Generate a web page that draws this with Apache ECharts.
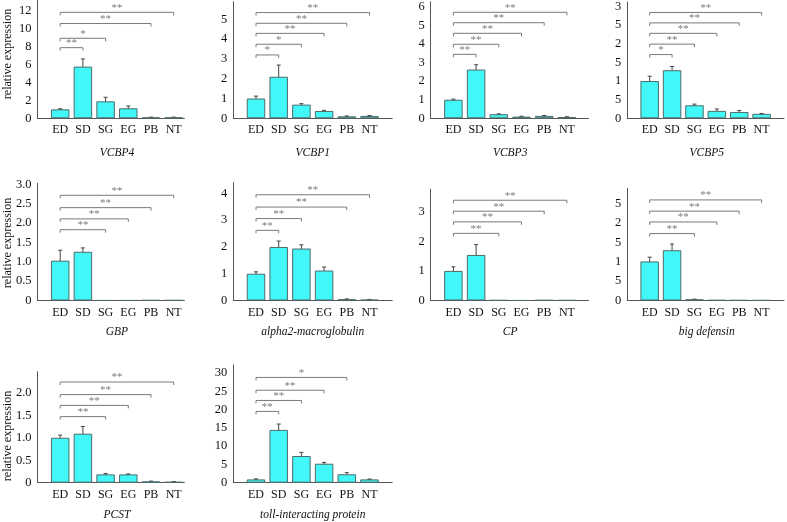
<!DOCTYPE html>
<html>
<head>
<meta charset="utf-8">
<script src="https://cdn.jsdelivr.net/npm/echarts@6/dist/echarts.min.js"></script>
<style>html,body{margin:0;padding:0;background:#fff}#c{width:787px;height:522px}</style>
</head>
<body>
<div id="c"></div>
<script>
// ---------- data ----------
const categories = ['ED', 'SD', 'SG', 'EG', 'PB', 'NT'];
const genes = ['VCBP4', 'VCBP1', 'VCBP3', 'VCBP5', 'GBP', 'alpha2-macroglobulin', 'CP', 'big defensin', 'PCST', 'toll-interacting protein'];

const vcbp4Mean = [1.0, 5.78, 1.9, 1.12, 0.1, 0.1];
const vcbp4Err  = [0.07, 0.86, 0.45, 0.26, 0.03, 0.03];
const vcbp1Mean = [1.0, 2.1, 0.69, 0.37, 0.1, 0.12];
const vcbp1Err  = [0.12, 0.59, 0.05, 0.03, 0.02, 0.02];
const vcbp3Mean = [1.0, 2.62, 0.22, 0.09, 0.13, 0.07];
const vcbp3Err  = [0.03, 0.26, 0.02, 0.02, 0.02, 0.01];
const vcbp5Mean = [1.0, 1.29, 0.35, 0.2, 0.17, 0.12];
const vcbp5Err  = [0.13, 0.1, 0.03, 0.05, 0.04, 0.01];
const gbpMean   = [1.03, 1.26, 0.003, 0.003, 0.008, 0.008];
const gbpErr    = [0.27, 0.1, 0, 0, 0, 0];
const a2mMean   = [1.0, 2.0, 1.94, 1.12, 0.05, 0.03];
const a2mErr    = [0.07, 0.22, 0.14, 0.13, 0.01, 0.01];
const cpMean    = [1.0, 1.54, 0.01, 0.003, 0.012, 0.008];
const cpErr     = [0.14, 0.35, 0, 0, 0, 0];
const bdMean    = [1.01, 1.3, 0.03, 0.01, 0.008, 0.005];
const bdErr     = [0.11, 0.16, 0.005, 0, 0, 0];
const pcstMean  = [1.0, 1.09, 0.185, 0.185, 0.03, 0.02];
const pcstErr   = [0.06, 0.16, 0.02, 0.01, 0.005, 0.003];
const tollMean  = [0.9, 14.45, 7.3, 5.2, 2.3, 0.9];
const tollErr   = [0.15, 1.6, 1.0, 0.35, 0.45, 0.1];

// significance brackets: [target category index, level, stars] (all from ED)
const vcbp4Sig = [[1, 7.9, '**'], [2, 8.95, '*'], [4, 10.6, '**'], [5, 11.85, '**']];
const vcbp1Sig = [[1, 3.2, '*'], [2, 3.74, '*'], [3, 4.29, '**'], [4, 4.8, '**'], [5, 5.34, '**']];
const vcbp3Sig = [[1, 3.44, '**'], [2, 3.98, '**'], [3, 4.57, '**'], [4, 5.14, '**'], [5, 5.7, '**']];
const vcbp5Sig = [[1, 1.71, '*'], [2, 1.99, '**'], [3, 2.28, '**'], [4, 2.56, '**'], [5, 2.84, '**']];
const gbpSig   = [[2, 1.83, '**'], [3, 2.11, '**'], [4, 2.4, '**'], [5, 2.72, '**']];
const a2mSig   = [[1, 2.62, '**'], [2, 3.06, '**'], [4, 3.49, '**'], [5, 3.95, '**']];
const cpSig    = [[2, 2.27, '**'], [3, 2.66, '**'], [4, 3.02, '**'], [5, 3.39, '**']];
const bdSig    = [[2, 1.73, '**'], [3, 2.03, '**'], [4, 2.31, '**'], [5, 2.6, '**']];
const pcstSig  = [[2, 1.47, '**'], [3, 1.72, '**'], [4, 1.96, '**'], [5, 2.24, '**']];
const tollSig  = [[1, 19.5, '**'], [2, 22.5, '**'], [3, 25.3, '**'], [4, 28.8, '*']];

// y tick labels (as printed in the figure)
const vcbp4Ticks = ['0', '2', '4', '6', '8', '10', '12'];
const vcbp1Ticks = ['0', '1', '2', '3', '4', '5'];
const vcbp3Ticks = ['0', '1', '2', '3', '4', '5', '6'];
const vcbp5Ticks = ['0', '5', '1', '5', '2', '5', '3'];
const gbpTicks   = ['0', '0.5', '1.0', '1.5', '2.0', '2.5', '3.0'];
const a2mTicks   = ['0', '1', '2', '3', '4'];
const cpTicks    = ['0', '1', '2', '3'];
const bdTicks    = ['0', '5', '1', '5', '2', '5'];
const pcstTicks  = ['0', '0.5', '1.0', '1.5', '2.0'];
const tollTicks  = ['0', '5', '10', '15', '20', '25', '30'];

const tickStep = [2, 1, 1, 0.5, 0.5, 1, 1, 0.5, 0.5, 5];
const yMax     = [13.23, 5.89, 6.27, 3.12, 3.03, 4.4, 3.76, 2.9, 2.47, 32.2];

// ---------- layout ----------
const FONT = 'Liberation Serif';
const STEP = 22.7;                       // px per category
const colLeft = [37.5, 233.3, 430.7, 627.3];
const colXMax = [5.47, 6, 5.95, 6];
const rowBase = [118.3, 300.5, 482.7];
const rowTitleY = [152.7, 332, 515];
const panelTop = [0, 1.7, 1.7, 1.7, 183.3, 182.7, 189.3, 188.3, 371.7, 365];

const means = [vcbp4Mean, vcbp1Mean, vcbp3Mean, vcbp5Mean, gbpMean, a2mMean, cpMean, bdMean, pcstMean, tollMean];
const errs  = [vcbp4Err, vcbp1Err, vcbp3Err, vcbp5Err, gbpErr, a2mErr, cpErr, bdErr, pcstErr, tollErr];
const sigs  = [vcbp4Sig, vcbp1Sig, vcbp3Sig, vcbp5Sig, gbpSig, a2mSig, cpSig, bdSig, pcstSig, tollSig];
const ticks = [vcbp4Ticks, vcbp1Ticks, vcbp3Ticks, vcbp5Ticks, gbpTicks, a2mTicks, cpTicks, bdTicks, pcstTicks, tollTicks];

const grid = [], xAxis = [], yAxis = [], series = [], graphic = [];

for (let p = 0; p < 10; p++) {
  const col = p % 4, row = Math.floor(p / 4);
  const left = colLeft[col];
  const width = (colXMax[col] + 1) * STEP;
  const top = panelTop[p];
  const height = rowBase[row] - top;
  grid.push({ left: left, top: top, width: width, height: height, containLabel: false });

  xAxis.push({
    type: 'value', gridIndex: p, min: -1, max: colXMax[col], interval: 1,
    axisLine: { show: true, onZero: false, lineStyle: { color: '#555', width: 1 } },
    axisTick: { show: false }, splitLine: { show: false },
    axisLabel: {
      margin: 6, color: '#111', fontFamily: FONT, fontSize: 12,
      showMinLabel: true, showMaxLabel: true,
      formatter: v => (Number.isInteger(v) && v >= 0 && v < categories.length) ? categories[v] : ''
    }
  });

  const step = tickStep[p], tl = ticks[p];
  yAxis.push({
    type: 'value', gridIndex: p, min: 0, max: yMax[p], interval: step,
    axisLine: { show: true, onZero: false, lineStyle: { color: '#555', width: 1 } },
    axisTick: { show: false }, splitLine: { show: false },
    axisLabel: {
      margin: 6, color: '#111', fontFamily: FONT, fontSize: 12.5,
      formatter: v => {
        const k = v / step, r = Math.round(k);
        return (Math.abs(k - r) < 1e-6 && r < tl.length) ? tl[r] : '';
      }
    }
  });

  const m = means[p], e = errs[p], s = sigs[p];
  series.push({
    type: 'bar', xAxisIndex: p, yAxisIndex: p, barWidth: 18.5,
    data: m.map((v, i) => [i, v]),
    itemStyle: { color: '#42F7F7', borderColor: '#4f6b6b', borderWidth: 1 },
    silent: true
  });
  series.push({
    type: 'custom', xAxisIndex: p, yAxisIndex: p, silent: true,
    data: m.map((v, i) => [i, v, e[i]]),
    renderItem: (params, api) => {
      const x = api.value(0), y = api.value(1), d = api.value(2);
      if (!(d > 0)) return null;
      const a = api.coord([x, y + d]), b = api.coord([x, y - d]);
      const st = { stroke: '#444', lineWidth: 1 };
      return { type: 'group', children: [
        { type: 'line', shape: { x1: a[0], y1: a[1], x2: b[0], y2: b[1] }, style: st },
        { type: 'line', shape: { x1: a[0] - 2, y1: a[1], x2: a[0] + 2, y2: a[1] }, style: st },
        { type: 'line', shape: { x1: b[0] - 2, y1: b[1], x2: b[0] + 2, y2: b[1] }, style: st }
      ] };
    }
  });
  series.push({
    type: 'custom', xAxisIndex: p, yAxisIndex: p, silent: true, clip: false,
    data: s.map(b => [b[0], b[1]]),
    renderItem: (params, api) => {
      const t = api.value(0), lv = api.value(1);
      const p0 = api.coord([0, lv]), p1 = api.coord([t, lv]);
      const stars = s[params.dataIndex][2];
      return { type: 'group', children: [
        { type: 'polyline', shape: { points: [[p0[0], p0[1] + 3], [p0[0], p0[1]], [p1[0], p1[1]], [p1[0], p1[1] + 3]] },
          style: { stroke: '#7a7a7a', lineWidth: 1, fill: null } },
        { type: 'text', x: (p0[0] + p1[0]) / 2, y: p0[1] - 4.5,
          style: { text: stars, fill: '#7a7a7a', fontFamily: FONT, fontSize: 11, align: 'center', verticalAlign: 'middle' } }
      ] };
    }
  });

  graphic.push({
    type: 'text', x: left + STEP * 3.5, y: rowTitleY[row],
    style: { text: genes[p], fill: '#111', fontFamily: FONT, fontStyle: 'italic', fontSize: 11.5, align: 'center', verticalAlign: 'middle' }
  });
  if (col === 0) {
    graphic.push({
      type: 'text', x: 7.5, y: [54, 243, 436][row], rotation: Math.PI / 2,
      style: { text: 'relative expression', fill: '#111', fontFamily: FONT, fontSize: 12, align: 'center', verticalAlign: 'middle' }
    });
  }
}

const chart = echarts.init(document.getElementById('c'), null, { renderer: 'canvas' });
chart.setOption({ animation: false, backgroundColor: '#fff', grid, xAxis, yAxis, series, graphic });
</script>
</body>
</html>
